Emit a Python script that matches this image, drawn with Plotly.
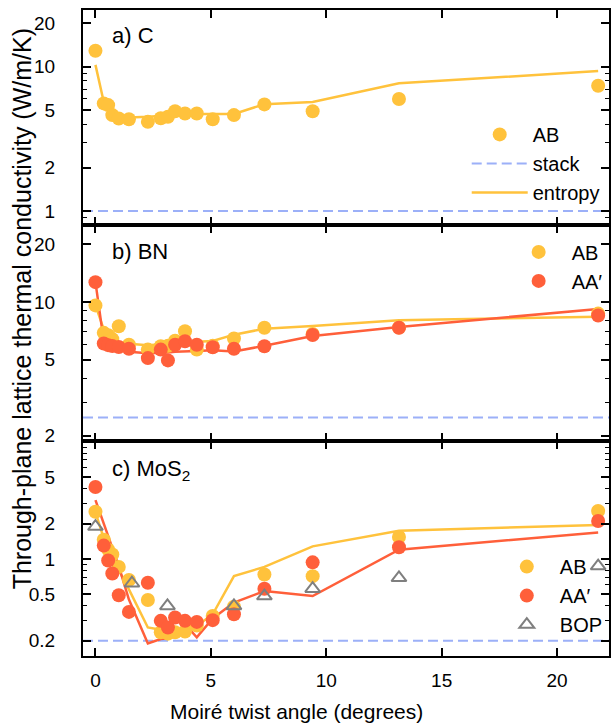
import plotly.graph_objects as go
from plotly.subplots import make_subplots

# ---------------- data ----------------
angle = [0, 0.36, 0.55, 0.73, 1.01, 1.45, 2.27, 2.83, 3.14, 3.45, 3.88, 4.39, 5.08, 6.0, 7.32, 9.41, 13.15, 21.78]

c_ab = [12.9, 5.57, 5.42, 4.62, 4.38, 4.33, 4.15, 4.39, 4.50, 4.92, 4.74, 4.74, 4.33, 4.62, 5.48, 4.92, 5.97, 7.38]
c_entropy = [10.3, 5.7, 5.2, 4.8, 4.6, 4.45, 4.5, 4.55, 4.6, 4.7, 4.75, 4.7, 4.7, 4.7, 5.5, 5.7, 7.67, 9.33]
c_stack = 1.0

bn_ab = [9.6, 6.9, 6.7, 6.4, 7.47, 5.98, 5.64, 5.87, 5.9, 6.28, 7.03, 5.64, 5.9, 6.44, 7.33, 6.8, 7.35, 8.7]
bn_aa = [12.7, 6.07, 5.95, 5.88, 5.82, 5.70, 5.09, 5.64, 4.95, 5.98, 6.24, 5.98, 5.80, 5.70, 5.87, 6.72, 7.33, 8.5]
bn_ab_entropy = [9.6, 7.2, 6.6, 6.3, 6.15, 6.05, 5.95, 6.0, 6.05, 6.1, 6.15, 6.2, 6.25, 6.75, 7.25, 7.5, 8.04, 8.38]
bn_aa_entropy = [12.7, 6.24, 5.95, 5.75, 5.6, 5.5, 5.4, 5.42, 5.45, 5.5, 5.5, 5.55, 5.6, 5.52, 5.9, 6.65, 7.4, 9.2]
bn_stack = 2.49

mos2_ab = [2.53, 1.46, 1.2, 1.09, 0.855, 0.66, 0.446, 0.236, 0.23, 0.236, 0.24, 0.27, 0.326, 0.39, 0.736, 0.713, 1.54, 2.57]
mos2_aa = [4.12, 1.30, 0.97, 0.75, 0.489, 0.353, 0.626, 0.296, 0.26, 0.316, 0.296, 0.29, 0.30, 0.337, 0.557, 0.935, 1.26, 2.11]
mos2_ab_entropy = [2.5, 1.5, 1.25, 1.05, 0.8, 0.55, 0.26, 0.248, 0.244, 0.236, 0.268, 0.268, 0.337, 0.713, 0.855, 1.28, 1.74, 1.95]
mos2_aa_entropy = [3.18, 2.02, 1.6, 1.28, 0.87, 0.45, 0.19, 0.207, 0.21, 0.221, 0.277, 0.214, 0.31, 0.424, 0.532, 0.482, 1.2, 1.68]
bop_angle = [0, 1.58, 3.12, 6.0, 7.32, 9.41, 13.15, 21.78]
mos2_bop = [1.89, 0.62, 0.397, 0.397, 0.482, 0.557, 0.69, 0.87]
mos2_stack = 0.2

x_ticks = [0, 5, 10, 15, 20]
x_range = [-0.54, 22.25]

y_ticks = [[1, 2, 5, 10, 20], [2, 5, 10, 20], [0.2, 0.5, 1, 2, 5]]
y_ticktext = [["1", "2", "5", "10", "20"], ["2", "5", "10", "20"], ["0.2", "0.5", "1", "2", "5"]]
y_minor = [[0.9, 3, 4, 6, 7, 8, 9], [3, 4, 6, 7, 8, 9],
           [0.3, 0.4, 0.6, 0.7, 0.8, 0.9, 3, 4, 6, 7, 8, 9, 10]]
y_ranges = [[-0.099, 1.393], [0.275, 1.401], [-0.829, 1.010]]

# ---------------- style ----------------
YEL = "#ffc23c"
RED = "#ff5f3a"
STACK = "#9cb0f8"
GREY = "#7f7f7f"
FONT = "Liberation Sans, Arial, sans-serif"
MS = 14

fig = make_subplots(rows=3, cols=1, shared_xaxes=True, vertical_spacing=0)

def stack_line(val, row, show, legend):
    fig.add_trace(go.Scatter(x=x_range, y=[val, val], mode="lines",
                             line=dict(color=STACK, width=2, dash="10px,5px"),
                             name="stack", showlegend=show, legend=legend, legendrank=2),
                  row=row, col=1)

def entropy(y, color, row, show, legend):
    fig.add_trace(go.Scatter(x=angle, y=y, mode="lines", line=dict(color=color, width=2.5),
                             name="entropy", showlegend=show, legend=legend, legendrank=3),
                  row=row, col=1)

def points(y, color, name, row, legend, rank, x=angle):
    fig.add_trace(go.Scatter(x=x, y=y, mode="markers", marker=dict(color=color, size=MS),
                             name=name, legend=legend, legendrank=rank), row=row, col=1)

# panel a
stack_line(c_stack, 1, True, "legend")
entropy(c_entropy, YEL, 1, True, "legend")
points(c_ab, YEL, "AB", 1, "legend", 1)

# panel b
stack_line(bn_stack, 2, False, "legend2")
entropy(bn_ab_entropy, YEL, 2, False, "legend2")
entropy(bn_aa_entropy, RED, 2, False, "legend2")
points(bn_ab, YEL, "AB", 2, "legend2", 1)
points(bn_aa, RED, "AA\u2032", 2, "legend2", 2)

# panel c
stack_line(mos2_stack, 3, False, "legend3")
entropy(mos2_ab_entropy, YEL, 3, False, "legend3")
entropy(mos2_aa_entropy, RED, 3, False, "legend3")
points(mos2_ab, YEL, "AB", 3, "legend3", 1)
points(mos2_aa, RED, "AA\u2032", 3, "legend3", 2)
fig.add_trace(go.Scatter(x=bop_angle, y=mos2_bop, mode="markers",
                         marker=dict(symbol="triangle-up-open", color=GREY, size=13,
                                     line=dict(width=2, color=GREY)),
                         name="BOP", legend="legend3", legendrank=3), row=3, col=1)

for i in range(3):
    fig.update_xaxes(range=x_range, tickvals=x_ticks, ticks="inside", ticklen=8, tickwidth=1.5,
                     tickcolor="black", mirror="allticks", showline=True, linecolor="black",
                     linewidth=2, showgrid=False, zeroline=False,
                     showticklabels=(i == 2), ticklabelstandoff=6,
                     tickfont=dict(size=19, color="black", family=FONT), row=i + 1, col=1)
    fig.update_yaxes(type="log", range=y_ranges[i], tickvals=y_ticks[i], ticktext=y_ticktext[i],
                     ticks="inside", ticklen=8, tickwidth=1.5, tickcolor="black",
                     minor=dict(tickvals=y_minor[i], ticks="inside", ticklen=4, tickwidth=1.2,
                                tickcolor="black", showgrid=False),
                     mirror="allticks", showline=True, linecolor="black", linewidth=2,
                     showgrid=False, zeroline=False, ticklabelstandoff=22,
                     tickfont=dict(size=19, color="black", family=FONT), row=i + 1, col=1)

leg_common = dict(bgcolor="rgba(0,0,0,0)", font=dict(size=20, family=FONT, color="black"),
                  xanchor="left", yanchor="top", itemwidth=56, traceorder="normal")
fig.update_layout(
    width=611, height=723,
    margin=dict(l=83, r=0, t=10, b=67),
    paper_bgcolor="white", plot_bgcolor="white",
    font=dict(family=FONT, color="black"),
    legend=dict(x=0.7295, y=0.8376, **leg_common),
    legend2=dict(x=0.8035, y=0.6557, **leg_common),
    legend3=dict(x=0.781, y=0.1686, **leg_common),
    annotations=[
        dict(text="Through-plane lattice thermal conductivity (W/m/K)", textangle=-90,
             xref="paper", yref="paper", x=-0.1155, y=0.537, showarrow=False,
             xanchor="center", yanchor="middle", font=dict(size=25, family=FONT)),
        dict(text="Moiré twist angle (degrees)", xref="paper", yref="paper",
             x=0.405, y=-0.0862, showarrow=False, xanchor="center", yanchor="middle",
             font=dict(size=21, family=FONT)),
        dict(text="a) C", xref="paper", yref="paper", x=0.051, y=0.9613, showarrow=False,
             xanchor="left", yanchor="middle", font=dict(size=22, family=FONT)),
        dict(text="b) BN", xref="paper", yref="paper", x=0.051, y=0.6254, showarrow=False,
             xanchor="left", yanchor="middle", font=dict(size=22, family=FONT)),
        dict(text="c) MoS<sub>2</sub>", xref="paper", yref="paper", x=0.051, y=0.288,
             showarrow=False, xanchor="left", yanchor="middle", font=dict(size=22, family=FONT)),
    ],
)

fig.write_html("out.html")
